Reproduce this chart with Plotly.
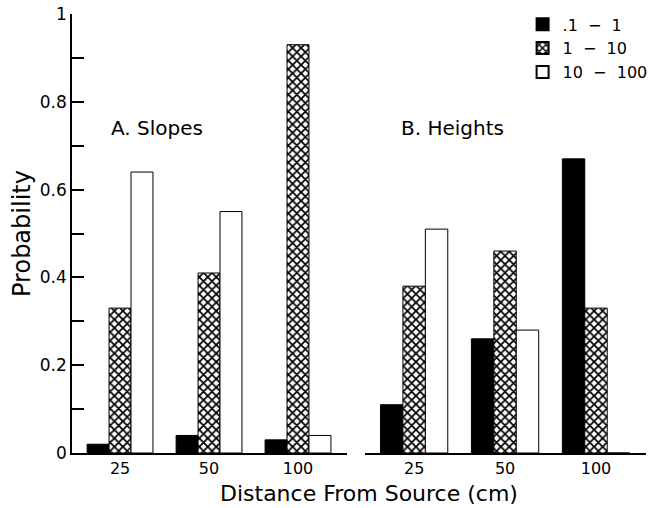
import plotly.graph_objects as go

categories = ["25", "50", "100"]
series_names = [".1\u00a0\u00a0\u2212\u00a0\u00a01", "1\u00a0\u00a0\u2212\u00a0\u00a010", "10\u00a0\u00a0\u2212\u00a0\u00a0100"]
slopes_small = [0.02, 0.04, 0.03]
slopes_mid = [0.33, 0.41, 0.93]
slopes_large = [0.64, 0.55, 0.04]
heights_small = [0.11, 0.26, 0.67]
heights_mid = [0.38, 0.46, 0.33]
heights_large = [0.51, 0.28, 0.0]

FONT = "DejaVu Sans"

styles = [
    dict(color="black", pattern=dict(shape="")),
    dict(color="white", pattern=dict(shape="x", fgcolor="black", bgcolor="white", size=6, solidity=0.5, fillmode="replace")),
    dict(color="white", pattern=dict(shape="")),
]

fig = go.Figure()
panels = [("x", [slopes_small, slopes_mid, slopes_large]),
          ("x2", [heights_small, heights_mid, heights_large])]
for pi, (xa, vals) in enumerate(panels):
    for i, (name, v) in enumerate(zip(series_names, vals)):
        st = styles[i]
        fig.add_trace(go.Bar(
            x=categories, y=v, name=name, xaxis=xa, yaxis="y",
            showlegend=(pi == 0), legendgroup=name,
            marker=dict(color=st["color"], pattern=st["pattern"],
                        line=dict(color="black", width=1)),
        ))

fig.update_layout(
    width=662, height=508,
    margin=dict(l=72, r=16, t=14, b=55, autoexpand=False),
    paper_bgcolor="white", plot_bgcolor="white",
    font=dict(family=FONT, color="black"),
    barmode="group", bargap=0.26, bargroupgap=0,
    showlegend=True,
    legend=dict(x=0.785, y=1.015, xanchor="left", yanchor="top",
                font=dict(size=16, family=FONT), bgcolor="rgba(0,0,0,0)",
                tracegroupgap=0, itemsizing="constant"),
    xaxis=dict(domain=[0, 0.479], type="category", range=[-0.54, 2.55],
               showline=True, linecolor="black", linewidth=1.5, ticks="",
               showgrid=False, zeroline=False, tickfont=dict(size=16)),
    xaxis2=dict(domain=[0.5105, 1], type="category", range=[-0.54, 2.55], anchor="y",
                showline=True, linecolor="black", linewidth=1.5, ticks="",
                showgrid=False, zeroline=False, tickfont=dict(size=16)),
    yaxis=dict(range=[0, 1], dtick=0.2, showline=True, linecolor="black", linewidth=1.5,
               ticks="inside", ticklen=12, tickwidth=1.5, tickcolor="black",
               minor=dict(dtick=0.1, ticks="inside", ticklen=12, tickwidth=1.5, tickcolor="black"),
               showgrid=False, zeroline=False, tickfont=dict(size=17),
               title=dict(text="Probability", font=dict(size=24), standoff=2)),
)
fig.add_annotation(text="A. Slopes", x=0.065, y=0.74, xref="paper", yref="paper",
                   xanchor="left", yanchor="middle", showarrow=False, font=dict(size=20))
fig.add_annotation(text="B. Heights", x=0.57, y=0.74, xref="paper", yref="paper",
                   xanchor="left", yanchor="middle", showarrow=False, font=dict(size=20))
fig.add_annotation(text="Distance From Source (cm)", x=0.517, y=-0.06, xref="paper", yref="paper",
                   xanchor="center", yanchor="top", showarrow=False, font=dict(size=22))

fig.write_html("out.html")
